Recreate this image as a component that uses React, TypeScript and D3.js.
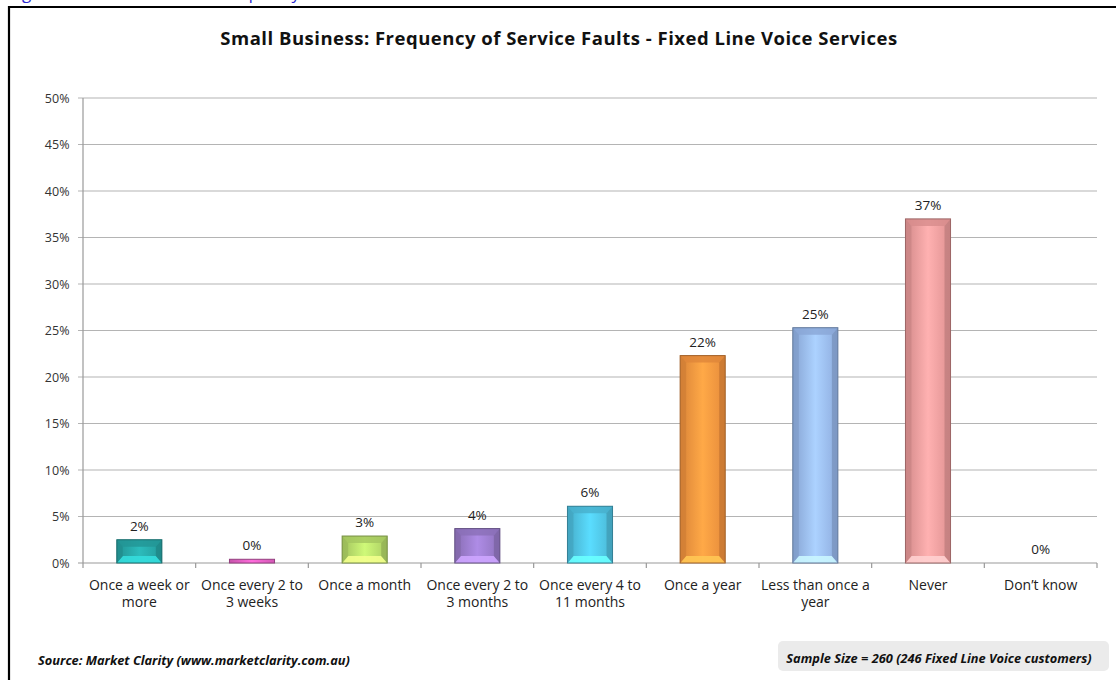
import React from "react";
import * as d3 from "d3";

const categories: string[][] = [
  ["Once a week or", "more"],
  ["Once every 2 to", "3 weeks"],
  ["Once a month"],
  ["Once every 2 to", "3 months"],
  ["Once every 4 to", "11 months"],
  ["Once a year"],
  ["Less than once a", "year"],
  ["Never"],
  ["Don\u2019t know"],
];
const values: number[] = [2.5, 0.4, 2.9, 3.7, 6.1, 22.3, 25.3, 37.0, 0];
const valueLabels: string[] = ["2%", "0%", "3%", "4%", "6%", "22%", "25%", "37%", "0%"];
const yTicks: number[] = [0, 5, 10, 15, 20, 25, 30, 35, 40, 45, 50];
const barColors: string[] = ["#27a6a6", "#e25fc2", "#b7dc6a", "#9a7ccb", "#4fc3e3", "#f7953f", "#98b9ee", "#ef9c9c", "#999999"];

const title = "Small Business: Frequency of Service Faults - Fixed Line Voice Services";
const caption = "Figure 36: Small Business: Frequency of Service Faults - Fixed Line Voice Services";
const source = "Source: Market Clarity (www.marketclarity.com.au)";
const sample = "Sample Size = 260 (246 Fixed Line Voice customers)";

const FONT = "'Open Sans', sans-serif";

export default function App() {
  const W = 1116, H = 680;
  const x0 = 83, x1 = 1097, yTop = 98, yBot = 563;
  const keys = categories.map((_, i) => String(i));
  const x = d3.scaleBand<string>().domain(keys).range([x0, x1]).paddingInner(0.6).paddingOuter(0.3);
  const xb = d3.scaleBand<string>().domain(keys).range([x0, x1]).padding(0);
  const y = d3.scaleLinear().domain([0, 50]).range([yBot, yTop]);
  const bw = x.bandwidth();

  return (
    <svg width={W} height={H} style={{ position: "absolute", left: 0, top: 0, background: "#fff" }} fontFamily={FONT}>
      <defs>
        {barColors.map((c, i) => {
          const base = d3.color(c)!;
          return (
            <linearGradient key={i} id={`g${i}`} x1="0" x2="1" y1="0" y2="0">
              <stop offset="0" stopColor={base.darker(0.35).formatHex()} />
              <stop offset="0.5" stopColor={base.brighter(0.35).formatHex()} />
              <stop offset="1" stopColor={base.darker(0.2).formatHex()} />
            </linearGradient>
          );
        })}
      </defs>
      <rect x={0} y={0} width={W} height={H} fill="#fff" />
      <text x={9} y={-1} fontSize={17} fill="#2a2ad0">{caption}</text>
      {/* frame */}
      <line x1={9} y1={7} x2={W} y2={7} stroke="#000" strokeWidth={2.2} />
      <line x1={9} y1={6} x2={9} y2={H} stroke="#000" strokeWidth={2.2} />

      <text x={559} y={45} textAnchor="middle" fontSize={18.5} letterSpacing={0.5} fontWeight="bold" fill="#111">{title}</text>

      {/* grid */}
      {yTicks.map((t) => (
        <g key={t}>
          <line x1={x0 - 5} x2={x1} y1={y(t)} y2={y(t)} stroke={t === 0 ? "#999" : "#b4b4b4"} strokeWidth={1.2} />
          <text x={69.5} y={y(t) + 4.5} textAnchor="end" fontSize={12.5} fill="#333">{t}%</text>
        </g>
      ))}
      <line x1={x0} x2={x0} y1={yTop} y2={yBot} stroke="#999" strokeWidth={1.2} />
      {keys.concat(["end"]).map((k, i) => {
        const px = i < keys.length ? xb(k)! : x1;
        return <line key={i} x1={px} x2={px} y1={yBot} y2={yBot + 5} stroke="#999" strokeWidth={1.2} />;
      })}

      {/* bars */}
      {values.map((v, i) => {
        if (v <= 0) return null;
        const bx = x(String(i))!;
        const by = y(v);
        const bh = yBot - by;
        const c = d3.color(barColors[i])!;
        const ins = Math.min(7, bh / 2);
        const inx = 6;
        return (
          <g key={i}>
            <rect x={bx} y={by} width={bw} height={bh} fill={`url(#g${i})`} />
            {bh > 6 && (
              <>
                <polygon points={`${bx},${by} ${bx + bw},${by} ${bx + bw - inx},${by + ins} ${bx + inx},${by + ins}`} fill={c.darker(0.3).formatHex()} opacity={0.8} />
                <polygon points={`${bx},${yBot} ${bx + bw},${yBot} ${bx + bw - inx},${yBot - ins} ${bx + inx},${yBot - ins}`} fill={c.brighter(0.8).formatHex()} opacity={0.9} />
                <polygon points={`${bx},${by} ${bx + inx},${by + ins} ${bx + inx},${yBot - ins} ${bx},${yBot}`} fill={c.darker(0.5).formatHex()} opacity={0.7} />
                <polygon points={`${bx + bw},${by} ${bx + bw - inx},${by + ins} ${bx + bw - inx},${yBot - ins} ${bx + bw},${yBot}`} fill={c.darker(0.7).formatHex()} opacity={0.7} />
              </>
            )}
            <rect x={bx} y={by} width={bw} height={bh} fill="none" stroke={c.darker(1.2).formatHex()} strokeWidth={1} />
          </g>
        );
      })}

      {/* value labels */}
      {valueLabels.map((l, i) => (
        <text key={i} x={x(String(i))! + bw / 2} y={y(values[i]) - 9} textAnchor="middle" fontSize={13.5} fill="#222">{l}</text>
      ))}

      {/* category labels */}
      {categories.map((lines, i) => (
        <text key={i} x={xb(String(i))! + xb.bandwidth() / 2} y={590} textAnchor="middle" fontSize={14} fill="#222">
          {lines.map((ln, j) => (
            <tspan key={j} x={xb(String(i))! + xb.bandwidth() / 2} dy={j === 0 ? 0 : 17}>{ln}</tspan>
          ))}
        </text>
      ))}

      <text x={38} y={665} fontSize={12.8} fontWeight="bold" fontStyle="italic" fill="#111">{source}</text>
      <rect x={778} y={641} width={331} height={30} rx={5} fill="#ebebeb" />
      <text x={939} y={663} textAnchor="middle" fontSize={12.8} fontWeight="bold" fontStyle="italic" fill="#111">{sample}</text>
    </svg>
  );
}
